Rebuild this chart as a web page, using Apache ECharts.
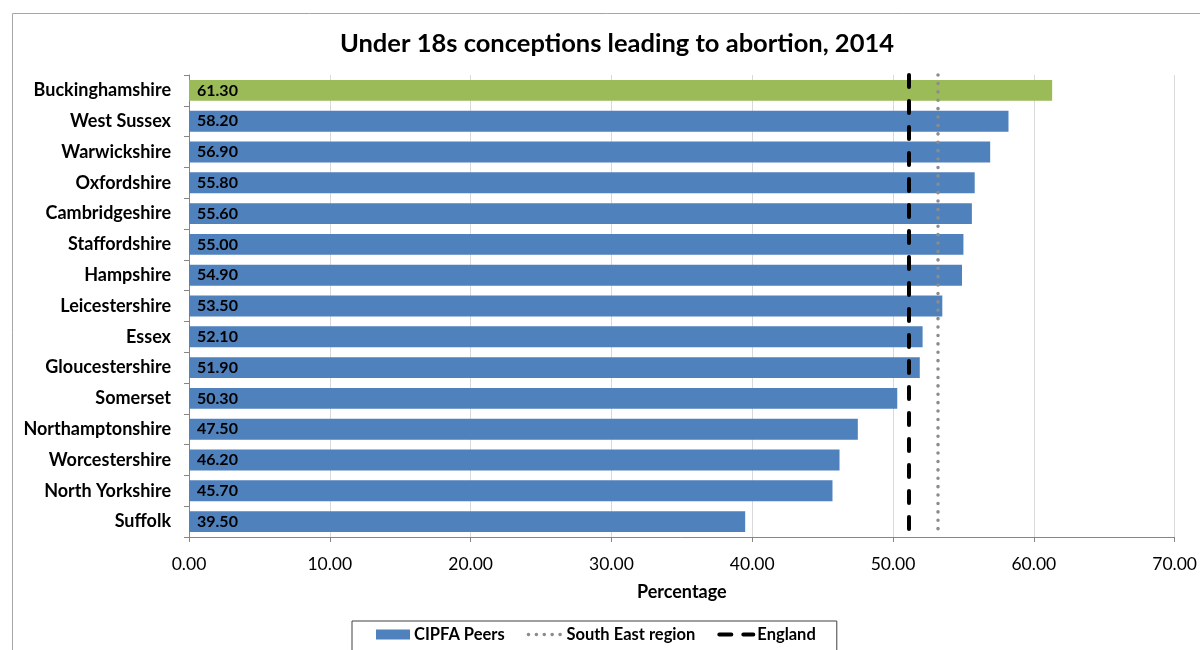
<!DOCTYPE html>
<html>
<head>
<meta charset="utf-8">
<script src="https://cdn.jsdelivr.net/npm/echarts@6/dist/echarts.min.js"></script>
<style>html,body{margin:0;padding:0;background:#fff;}#c{width:1200px;height:650px;}</style>
</head>
<body>
<div id="c"></div>
<script>
const categories = ["Buckinghamshire","West Sussex","Warwickshire","Oxfordshire","Cambridgeshire","Staffordshire","Hampshire","Leicestershire","Essex","Gloucestershire","Somerset","Northamptonshire","Worcestershire","North Yorkshire","Suffolk"];
const peerValues = [61.30,58.20,56.90,55.80,55.60,55.00,54.90,53.50,52.10,51.90,50.30,47.50,46.20,45.70,39.50];
const highlighted = "Buckinghamshire";
const southEastValue = 53.2;
const englandValue = 51.1;
const xTicks = [0,10,20,30,40,50,60,70];

const FONT = 'Lato';
const chart = echarts.init(document.getElementById('c'), null, {renderer:'canvas'});
const barData = categories.map((c,i)=>({
  value: peerValues[i],
  itemStyle: c === highlighted ? {color:'#9BBB59'} : undefined
}));
const dotStyle = {color:'#8c8c8c',width:3.5,type:[0.1,8.3],cap:'round'};
const dashStyle = {color:'#000',width:4,type:[12,14],cap:'round'};
chart.setOption({
  animation:false,
  textStyle:{fontFamily:FONT},
  title:{
    text:'Under 18s conceptions leading to abortion, 2014',
    left:612, top:26, textAlign:'center',
    textStyle:{fontFamily:FONT,fontWeight:'bold',fontSize:25.5,color:'#000'}
  },
  graphic:[{type:'rect',shape:{x:12.5,y:13.5,width:1300,height:800},style:{fill:'none',stroke:'#a6a6a6',lineWidth:1},silent:true,z:-10}],
  legend:{
    top:621, left:352,
    padding:[5,21,14,24],
    borderColor:'#404040', borderWidth:1,
    itemGap:22, itemWidth:34, itemHeight:10,
    textStyle:{fontFamily:FONT,fontWeight:'bold',fontSize:16.5,color:'#000',padding:[0,0,0,-1]},
    data:[
      {name:'CIPFA Peers', icon:'rect'},
      {name:'South East region', itemStyle:{opacity:0}, lineStyle:{color:'#8c8c8c',width:3.5,type:[0.1,7.8],cap:'round'}},
      {name:'England', itemStyle:{opacity:0}, lineStyle:{color:'#000',width:4,type:[12,12],cap:'round'}}
    ]
  },
  grid:{left:189,right:24,top:75,bottom:113},
  xAxis:{
    type:'value', min:xTicks[0], max:xTicks[xTicks.length-1], interval:10,
    name:'Percentage', nameLocation:'middle', nameGap:46,
    nameTextStyle:{fontFamily:FONT,fontWeight:'bold',fontSize:18,color:'#000'},
    axisLine:{show:true,lineStyle:{color:'#868686'}},
    axisTick:{show:true,length:5,lineStyle:{color:'#868686'}},
    axisLabel:{fontFamily:FONT,fontSize:17.5,color:'#000',margin:18,formatter:v=>v.toFixed(2)},
    splitLine:{show:true,lineStyle:{color:'#d9d9d9'}}
  },
  yAxis:{
    type:'category', data:categories, inverse:true,
    axisLine:{show:true,lineStyle:{color:'#868686'}},
    axisTick:{show:true,length:5,alignWithLabel:false,lineStyle:{color:'#868686'}},
    axisLabel:{fontFamily:FONT,fontWeight:'bold',fontSize:18,color:'#000',margin:18}
  },
  series:[
    {
      name:'CIPFA Peers', type:'bar', data:barData, barCategoryGap:'32%',
      itemStyle:{color:'#4F81BD'},
      label:{show:true,position:'insideLeft',distance:8,formatter:p=>p.value.toFixed(2),
        fontFamily:FONT,fontWeight:'bold',fontSize:16,color:'#000'}
    },
    {
      name:'South East region', type:'line', data:[], symbol:'none',
      lineStyle:dotStyle,
      itemStyle:{color:'#8c8c8c',opacity:0},
      markLine:{silent:true,symbol:'none',label:{show:false},lineStyle:dotStyle,
        data:[{xAxis:southEastValue}]}
    },
    {
      name:'England', type:'line', data:[], symbol:'none',
      lineStyle:dashStyle,
      itemStyle:{color:'#000',opacity:0},
      markLine:{silent:true,symbol:'none',label:{show:false},lineStyle:dashStyle,
        data:[{xAxis:englandValue}]}
    }
  ]
});
</script>
</body>
</html>
